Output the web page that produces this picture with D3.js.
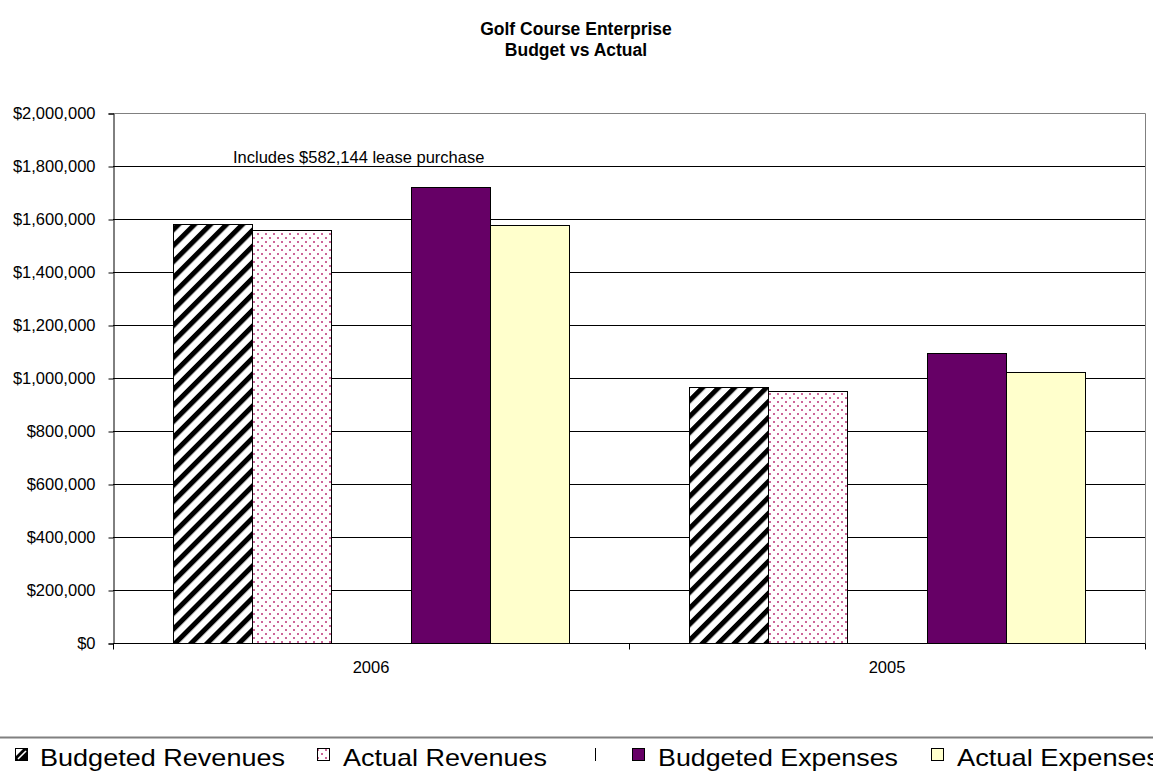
<!DOCTYPE html>
<html><head><meta charset="utf-8">
<script src="https://cdn.jsdelivr.net/npm/d3@7"></script>
<style>
body{margin:0;background:#fff;overflow:hidden;}
svg{display:block;font-family:"Liberation Sans",Arial,sans-serif;}
</style>
</head><body>
<svg id="chart" width="1153" height="771"></svg>
<script>
// ---- data ----
const categories = ["2006", "2005"];
const seriesNames = ["Budgeted Revenues", "Actual Revenues", "", "Budgeted Expenses", "Actual Expenses"];
const budgetedRevenues = [1580000, 965000];
const actualRevenues = [1560000, 950000];
const spacerSeries = [0, 0];
const budgetedExpenses = [1720000, 1093000];
const actualExpenses = [1578000, 1024000];
const yTickValues = [0, 200000, 400000, 600000, 800000, 1000000, 1200000, 1400000, 1600000, 1800000, 2000000];
const titleLines = ["Golf Course Enterprise", "Budget vs Actual"];
const annotationText = "Includes $582,144 lease purchase";

const seriesValues = [budgetedRevenues, actualRevenues, spacerSeries, budgetedExpenses, actualExpenses];
const seriesFill = ["url(#hatch)", "url(#dots)", "none", "#660066", "#FFFFCC"];

// ---- layout ----
const plotL = 113, plotR = 1145, plotT = 113, plotB = 643;
const svg = d3.select("#chart");
const defs = svg.append("defs");

const hatch = defs.append("pattern").attr("id", "hatch")
  .attr("patternUnits", "userSpaceOnUse").attr("width", 11.3).attr("height", 11.3)
  .attr("patternTransform", "rotate(45)");
hatch.append("rect").attr("width", 11.3).attr("height", 11.3).attr("fill", "#fff");
hatch.append("rect").attr("width", 5).attr("height", 11.3).attr("fill", "#000");

const dots = defs.append("pattern").attr("id", "dots")
  .attr("patternUnits", "userSpaceOnUse").attr("width", 8).attr("height", 8);
dots.append("rect").attr("width", 8).attr("height", 8).attr("fill", "#fff");
dots.append("rect").attr("x", 1).attr("y", 1).attr("width", 2).attr("height", 2).attr("fill", "#cc6699");
dots.append("rect").attr("x", 5).attr("y", 5).attr("width", 2).attr("height", 2).attr("fill", "#cc6699");

const y = d3.scaleLinear().domain([0, 2000000]).range([plotB, plotT]);
const x = d3.scaleBand().domain(categories).range([plotL, plotR]).paddingInner(0).paddingOuter(0);
const xs = d3.scaleBand().domain(d3.range(seriesNames.length)).range([0, x.bandwidth()])
  .paddingInner(0).paddingOuter(0.75);

// title
svg.append("g").selectAll("text").data(titleLines).join("text")
  .attr("x", 576).attr("y", (d, i) => 35 + i * 21)
  .attr("text-anchor", "middle").attr("font-weight", "bold").attr("font-size", "17.5px")
  .attr("fill", "#000").text(d => d);

// gridlines
svg.append("g").selectAll("line").data(yTickValues.filter(v => v > 0)).join("line")
  .attr("x1", plotL).attr("x2", plotR)
  .attr("y1", d => Math.round(y(d)) + 0.5).attr("y2", d => Math.round(y(d)) + 0.5)
  .attr("stroke", "#000").attr("stroke-width", 1);

// plot border (right/top)
svg.append("path")
  .attr("d", `M${plotL},${plotT + 0.5}H${plotR + 0.5}V${plotB}`)
  .attr("fill", "none").attr("stroke", "#808080").attr("stroke-width", 1);

// bars
const barData = [];
seriesValues.forEach((vals, si) => {
  if (seriesFill[si] === "none") return;
  vals.forEach((v, ci) => barData.push({si, ci, v}));
});
svg.append("g").selectAll("rect").data(barData).join("rect")
  .attr("x", d => Math.round(x(categories[d.ci]) + xs(d.si)) + 0.5)
  .attr("y", d => Math.round(y(d.v)) + 0.5)
  .attr("width", d => Math.round(xs.bandwidth()))
  .attr("height", d => Math.round(y(0)) - Math.round(y(d.v)))
  .attr("fill", d => seriesFill[d.si])
  .attr("stroke", "#000").attr("stroke-width", 1);

// y axis
const yAxis = svg.append("g").attr("transform", `translate(${plotL + 0.5},0.5)`)
  .call(d3.axisLeft(y).tickValues(yTickValues).tickSize(5).tickPadding(13)
    .tickFormat(d => "$" + d3.format(",")(d)));
yAxis.select(".domain").attr("stroke", "#000");
yAxis.selectAll(".tick line").attr("stroke", "#000");
yAxis.selectAll(".tick text").attr("font-size", "16.5px").attr("fill", "#000")
  .attr("font-family", "'Liberation Sans',Arial,sans-serif");

// x axis
const xAxis = svg.append("g").attr("transform", `translate(0,${plotB + 0.5})`)
  .call(d3.axisBottom(x).tickSize(0).tickPadding(18));
xAxis.select(".domain").attr("stroke", "#000").attr("d", `M${plotL},0H${plotR + 0.5}`);
xAxis.selectAll(".tick text").attr("font-size", "16.5px").attr("fill", "#000")
  .attr("font-family", "'Liberation Sans',Arial,sans-serif");
const boundaries = categories.map(c => x(c)).concat([x(categories[categories.length - 1]) + x.bandwidth()]);
xAxis.selectAll(".bound").data(boundaries).join("line").attr("class", "bound")
  .attr("x1", d => Math.round(d) + 0.5).attr("x2", d => Math.round(d) + 0.5)
  .attr("y1", 0).attr("y2", 6).attr("stroke", "#000");

// annotation
svg.append("text").attr("x", 233).attr("y", 163).attr("font-size", "16.5px")
  .attr("fill", "#000").text(annotationText);

// legend
svg.append("line").attr("x1", 0).attr("x2", 1153).attr("y1", 737.5).attr("y2", 737.5)
  .attr("stroke", "#808080").attr("stroke-width", 2);
const legendMarkerX = [15, 317, 595, 632, 931];
const legendTextX = [40, 343, 0, 658, 957];
const legendTextLen = [245, 204, 0, 240, 203];
const lg = svg.append("g");
seriesNames.forEach((name, i) => {
  const mx = legendMarkerX[i];
  if (name === "") {
    lg.append("line").attr("x1", mx + 0.5).attr("x2", mx + 0.5).attr("y1", 748).attr("y2", 761)
      .attr("stroke", "#000").attr("stroke-width", 1);
    return;
  }
  if (i === 0) {
    lg.append("rect").attr("x", mx + 0.5).attr("y", 748.5).attr("width", 12).attr("height", 12)
      .attr("fill", "#000").attr("stroke", "#000");
    lg.append("path").attr("d", `M${mx + 1},${748 + 1}H${mx + 8}L${mx + 1},${748 + 8}Z`).attr("fill", "#fff");
    lg.append("line").attr("x1", mx + 3).attr("y1", 759).attr("x2", mx + 11).attr("y2", 751)
      .attr("stroke", "#fff").attr("stroke-width", 1.6);
  } else {
    lg.append("rect").attr("x", mx + 0.5).attr("y", 748.5).attr("width", 12).attr("height", 12)
      .attr("fill", seriesFill[i]).attr("stroke", "#000");
  }
  lg.append("text").attr("x", legendTextX[i]).attr("y", 766)
    .attr("font-size", "24px").attr("fill", "#000")
    .attr("textLength", legendTextLen[i]).attr("lengthAdjust", "spacingAndGlyphs")
    .text(name);
});
</script>
</body></html>
